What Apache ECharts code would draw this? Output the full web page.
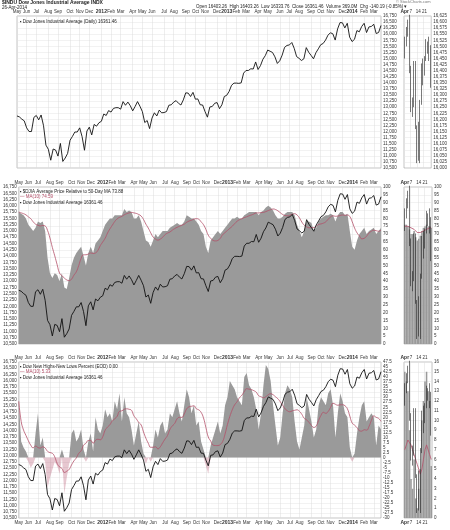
<!DOCTYPE html>
<html><head><meta charset="utf-8">
<script src="https://cdn.jsdelivr.net/npm/echarts@6/dist/echarts.min.js"></script>
<style>html,body{margin:0;background:#fff}#c{width:450px;height:530px}</style>
</head><body><div id="c"></div>
<script>
// weekly closes, first week of May 2011 to last week of Apr 2014 (week ending Fridays)
const weekStart = '2011-05-06';
const dow = [
12640,12600,12510,12440, 12150,12000,12000,12580, 12660,12480,12680,12240, 11440,11270,10820,11280,
11240,10990,11510,10770, 10910,11100,11640,11800,11980, 11980,12150,11790,11230, 12020,12180,11860,12290,12220,
12360,12420,12720,12660, 12860,12800,12950,12980, 12980,12920,13230,13080,13210, 13060,12850,13030,13230,
13040,12820,12370,12450, 12120,12550,12770,12640,12880, 12770,12780,12820,13080, 13100,13210,13270,13160,13090,
13300,13590,13580,13440, 13610,13330,13340,13100, 13090,12820,12590,13010, 13030,13160,13190,12940,13100,
13440,13490,13650,13900, 13990,13990,13980,14000, 14400,14510,14510,14580, 14570,14860,14550,14710,
14970,15120,15350,15300, 15250,15070,14800,14910, 15140,15460,15540,15560, 15660,15420,15080,15010,
14920,14990,15450,15260,15130, 14990,15240,15400,15570, 15620,15760,15960,16060, 16020,15760,16220,16480,
16470,16260,16450,15880,15700, 15790,16150,16100,16320, 16450,16070,16300,16320, 16410,16030,16070,16360];
const pctAbove = [
84,83,82,80, 76,74,72,74, 78,77,78,72, 55,45,42,45, 44,40,45,36, 35,42,50,55,58, 60,62,56,50, 58,62,58,64,66,
68,72,76,78, 80,80,82,82, 82,82,86,84,85, 84,80,80,82, 78,72,66,65, 62,66,70,68,70, 72,72,72,74,
75,76,77,76,76, 78,82,81,80, 80,78,76,72, 70,62,58,66, 68,70,72,70,72,
74,76,78,80, 80,81,80,80, 82,83,84,84, 84,84,82,84, 85,87,88,87, 85,82,80,80, 81,83,84,84, 84,82,76,72,
68,72,78,78,77, 72,74,78,80, 81,82,82,83, 82,78,82,84,
84,82,83,72,62, 60,66,70,72, 74,70,72,73, 74,70,72,73.88];
const nhnl = [
28,8,5,3, -2,-5,-3,12, 22,6,10,-2, -15,-10,-6,-2, -4,-8,4,-18, -10,-3,12,14,8, 10,14,4,-2, 8,12,3,20,14,
12,16,24,20, 22,18,28,24, 32,18,30,22,20, 14,6,12,18, 8,2,-3,0, -2,6,14,10,16, 18,12,14,22,
20,24,28,22,18, 26,34,30,22, 26,16,18,8, 4,-4,-8,6, 10,14,18,12,16,
26,30,38,36, 34,30,28,26, 40,42,36,34, 30,24,14,22, 36,46,44,38, 26,16,6,10, 22,32,36,34, 30,18,8,4,
10,16,30,24,18, 10,14,26,30, 28,26,32,34, 26,10,22,32,
28,22,20,5,-2, 2,12,20,26, 28,18,20,22, 20,6,16,14];

// April 2014 daily
const aprDays = ['1','2','3','4','7','8','9','10','11','14','15','16','17','21','22','23','24','25'];
const aprOpen  = [16458,16532,16573,16572,16412,16245,16256,16437,16170,16027,16173,16263,16424,16409,16449,16514,16501,16502];
const aprClose = [16532,16573,16572,16412,16245,16256,16437,16170,16027,16173,16263,16424,16409,16449,16514,16501,16502,16361];
const aprHigh  = [16540,16580,16610,16630,16420,16290,16440,16440,16175,16190,16280,16430,16450,16460,16530,16520,16540,16505];
const aprLow   = [16450,16500,16540,16390,16230,16210,16250,16160,16020,16030,16020,16260,16340,16380,16440,16470,16440,16330];
const aprPct   = [76,76,75,73,70,70,72,68,66,67,69,72,74,75,76,75,75,73.88];
const aprPctMa = [75,75,75,74,74,73,73,72,71,71,71,71,72,72,73,73,74,74];
const aprNh    = [15,14,13,9,4,3,6,2,1,3,5,10,12,14,15,13,12,5.33];
const aprNhMa  = [7,7.5,8,8,7.5,7,6.5,6,5.5,5,4.5,5,6,7,7.5,7,6.5,6];
const monthNames = ['Jan','Feb','Mar','Apr','May','Jun','Jul','Aug','Sep','Oct','Nov','Dec'];

const t0 = new Date(weekStart + 'T00:00:00Z').getTime();
const dates = dow.map((_, i) => new Date(t0 + i * 7 * 864e5));
const cats = dates.map(d => d.toISOString().slice(0, 10));
const isNewMonth = i => i === 0 || dates[i].getUTCMonth() !== dates[i - 1].getUTCMonth();
const sma = (a, n) => a.map((v, i) => { const s = a.slice(Math.max(0, i - n + 1), i + 1); return +(s.reduce((x, y) => x + y, 0) / s.length).toFixed(2); });
const nhnlMa = sma(nhnl, 8);

const FONT = 'Liberation Sans';
const grey = '#9a9a9a', red = '#b4506a';
const panels = [{top: 16, h: 152}, {top: 187, h: 157}, {top: 362, h: 156}];
const grids = [];
panels.forEach(p => {
  grids.push({left: 17, width: 364, top: p.top, height: p.h, show: true, borderColor: '#888', borderWidth: 0.5});
  grids.push({left: 404, width: 28, top: p.top, height: p.h, show: true, borderColor: '#888', borderWidth: 0.5});
});
const lbl = {fontSize: 4.5, color: '#333', fontFamily: FONT};
const mainX = (gi, pos, show) => ({
  type: 'category', gridIndex: gi, data: cats, position: pos, boundaryGap: false,
  axisLine: {show: false}, axisTick: {show: false},
  axisLabel: {show: show, ...lbl, margin: 2, interval: i => isNewMonth(i), hideOverlap: false, showMaxLabel: true,
    formatter: (v) => { const d = new Date(v + 'T00:00:00Z'); return d.getUTCMonth() === 0 ? '{b|' + d.getUTCFullYear() + '}' : monthNames[d.getUTCMonth()]; },
    rich: {b: {fontSize: 5, fontWeight: 'bold', fontFamily: FONT}}},
  splitLine: {show: true, interval: i => isNewMonth(i), lineStyle: {color: '#ddd', width: 0.5}}
});
const sideX = (gi, show, pos = 'top') => ({
  type: 'category', gridIndex: gi, data: aprDays, position: pos,
  axisLine: {show: false}, axisTick: {show: false},
  axisLabel: {show: show, ...lbl, margin: 2, interval: 0, formatter: (v, i) => i === 0 ? '{b|Apr}' : (['7','14','21'].includes(v) ? v : ''),
    rich: {b: {fontSize: 5, fontWeight: 'bold', fontFamily: FONT}}},
  splitLine: {show: true, interval: i => ['7','14','21'].includes(aprDays[i]), lineStyle: {color: '#ddd', width: 0.5}}
});
const yax = (gi, pos, min, max, iv, split, show = true) => ({
  type: 'value', gridIndex: gi, position: pos, min, max, interval: iv,
  axisLine: {show: false}, axisTick: {show: false},
  axisLabel: {show, ...lbl, margin: 2, hideOverlap: false},
  splitLine: {show: split, lineStyle: {color: '#e4e4e4', width: 0.5}}
});

const xAxis = [mainX(0, 'top', true), sideX(1, true), mainX(2, 'top', true), sideX(3, true),
  mainX(4, 'top', true), sideX(5, true), mainX(4, 'bottom', true), sideX(5, true, 'bottom')];
xAxis[6].splitLine.show = false; xAxis[7].splitLine.show = false;
const yAxis = [
  yax(0, 'right', 10500, 16750, 250, true),
  yax(1, 'right', 16000, 16625, 25, true),
  yax(2, 'right', 0, 100, 5, true),
  yax(2, 'left', 10500, 16750, 250, false),
  yax(3, 'right', 0, 100, 5, true),
  yax(3, 'left', 16000, 16625, 25, false, false),
  yax(4, 'right', -30, 47.5, 2.5, true),
  yax(4, 'left', 10500, 16750, 250, false),
  yax(5, 'right', 0, 16, 1, true),
  yax(5, 'left', 16000, 16625, 25, false, false)
];
const candle = (xi, yi, w) => ({type: 'candlestick', xAxisIndex: xi, yAxisIndex: yi, barWidth: w, z: 6,
  data: aprOpen.map((o, i) => [o, aprClose[i], aprLow[i], aprHigh[i]]),
  itemStyle: {color: '#fff', color0: '#333', borderColor: '#222', borderColor0: '#222', borderWidth: 0.6}});
const dowLine = (xi, yi) => ({type: 'line', xAxisIndex: xi, yAxisIndex: yi, data: dow, symbol: 'none', z: 5,
  lineStyle: {color: '#111', width: 0.9}});
const series = [
  dowLine(0, 0), candle(1, 1, 1.2),
  {type: 'line', xAxisIndex: 2, yAxisIndex: 2, data: pctAbove, symbol: 'none', lineStyle: {width: 0}, areaStyle: {color: grey, opacity: 1}},
  {type: 'line', xAxisIndex: 2, yAxisIndex: 2, data: sma(pctAbove, 6), symbol: 'none', smooth: true, lineStyle: {color: red, width: 0.8}},
  dowLine(2, 3),
  {type: 'bar', xAxisIndex: 3, yAxisIndex: 4, data: aprPct, barWidth: '100%', itemStyle: {color: grey}},
  {type: 'line', xAxisIndex: 3, yAxisIndex: 4, data: aprPctMa, symbol: 'none', lineStyle: {color: red, width: 0.8}},
  candle(3, 5, 0.8),
  {type: 'line', xAxisIndex: 4, yAxisIndex: 6, data: nhnl.map(v => Math.max(v, 0)), symbol: 'none', lineStyle: {width: 0}, areaStyle: {color: grey, opacity: 1, origin: 0}},
  {type: 'line', xAxisIndex: 4, yAxisIndex: 6, data: nhnl.map(v => Math.min(v, 0)), symbol: 'none', lineStyle: {width: 0}, areaStyle: {color: 'rgba(180,80,106,0.45)', origin: 0}},
  {type: 'line', xAxisIndex: 4, yAxisIndex: 6, data: nhnlMa, symbol: 'none', smooth: true, lineStyle: {color: red, width: 0.8}},
  dowLine(4, 7),
  {type: 'bar', xAxisIndex: 5, yAxisIndex: 8, data: aprNh, barWidth: '100%', itemStyle: {color: grey}},
  {type: 'line', xAxisIndex: 5, yAxisIndex: 8, data: aprNhMa, symbol: 'none', lineStyle: {color: red, width: 0.8}},
  candle(5, 9, 0.8)
];
const txt = (left, top, text, extra = {}) => ({type: 'text', left, top, z: 20,
  style: {text, fontSize: 4.5, fill: '#222', fontFamily: FONT, ...extra}});
const graphic = [
  txt(2, 0, '$INDU Dow Jones Industrial Average INDX', {fontWeight: 'bold', fontSize: 5}),
  txt(2, 5.5, '26-Apr-2014'),
  txt(196, 4.5, 'Open 16403.26  High 16403.26  Low 16333.76  Close 16361.46  Volume 369.0M  Chg -140.19 (-0.85%) ▾'),
  txt(396, 0, '© StockCharts.com', {fill: '#777', fontSize: 4}),
  txt(20, 19, '▪ Dow Jones Industrial Average (Daily) 16361.46'),
  txt(20, 189, '▪ $DJIA Average Price Relative to 50-Day MA 73.88'),
  txt(20, 194.5, '— MA(10) 74.59', {fill: red}),
  txt(20, 200, '▪ Dow Jones Industrial Average 16361.46'),
  txt(20, 364, '▪ Dow New Highs-New Lows Percent (EOD) 0.00'),
  txt(20, 369.5, '— MA(10) 5.33', {fill: red}),
  txt(20, 375, '▪ Dow Jones Industrial Average 16361.46')
];
const chart = echarts.init(document.getElementById('c'), null, {renderer: 'canvas'});
chart.setOption({animation: false, backgroundColor: '#fff', grid: grids, xAxis, yAxis, series, graphic});
</script></body></html>
